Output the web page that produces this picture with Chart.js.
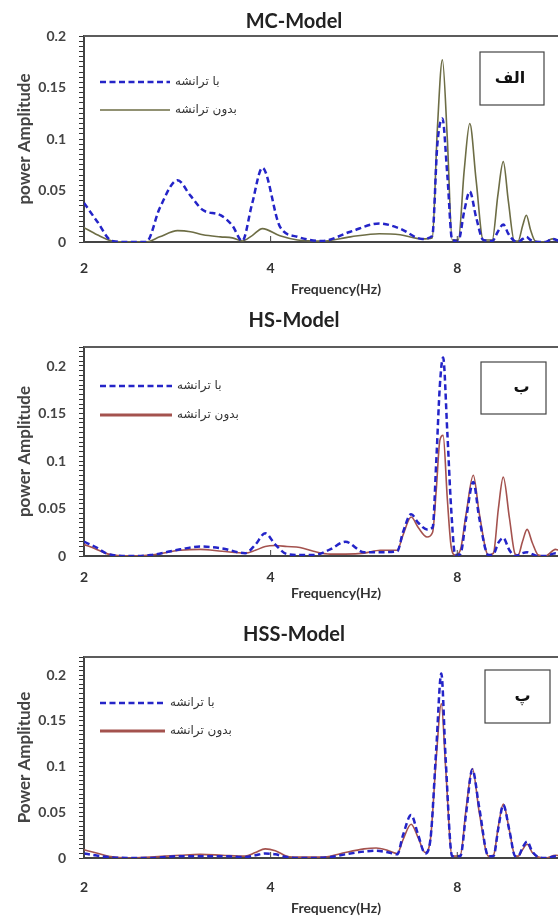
<!DOCTYPE html>
<html>
<head>
<meta charset="utf-8">
<script src="https://cdn.jsdelivr.net/npm/chart.js@4.4.1/dist/chart.umd.min.js"></script>
<style>
  html, body { margin: 0; padding: 0; background: #fff; overflow: hidden; }
  #page { position: relative; width: 558px; height: 917px; overflow: hidden; }
  .panel { position: absolute; left: 0; }
  .panel canvas { display: block; }
</style>
</head>
<body>
<div id="page">
  <div class="panel" style="top:0"><canvas id="mc" width="592" height="300"></canvas></div>
  <div class="panel" style="top:300px"><canvas id="hs" width="592" height="310"></canvas></div>
  <div class="panel" style="top:610px"><canvas id="hss" width="592" height="307"></canvas></div>
</div>
<script>
const xTicks = [2, 4, 8];
const seriesNames = ['با ترانشه', 'بدون ترانشه'];

// MC-Model spectra
const mcFreq = [2.00, 2.10, 2.22, 2.37, 2.52, 2.65, 2.83, 2.97, 3.11, 3.32,
  3.47, 3.60, 3.73, 3.88, 4.14, 4.42, 4.84, 5.38, 5.99, 6.47,
  7.02, 7.29, 7.43, 7.57, 7.71, 7.85, 8.03, 8.21, 8.38, 8.58,
  8.81, 9.11, 9.30, 9.49, 9.67, 9.89, 10.03, 10.20, 10.34, 10.50,
  10.69, 11.10, 11.38, 11.70, 12.30, 13.00];
const mcWith = [0.038, 0.020, 0.001, 0, 0, 0.033, 0.060, 0.045, 0.031, 0.026,
  0.016, 0.001, 0.036, 0.072, 0.015, 0.005, 0.001, 0.010, 0.018, 0.013,
  0.003, 0.006, 0.095, 0.120, 0.065, 0.002, 0.001, 0.030, 0.049, 0.024,
  0.002, 0.001, 0.010, 0.017, 0.008, 0.001, 0, 0.003, 0.005, 0.002,
  0, 0, 0.003, 0.001, 0, 0];
const mcWithout = [0.014, 0.007, 0.001, 0, 0, 0.005, 0.011, 0.010, 0.007, 0.005,
  0.004, 0.001, 0.006, 0.013, 0.006, 0.002, 0.001, 0.005, 0.008, 0.007,
  0.003, 0.004, 0.110, 0.177, 0.100, 0.002, 0.002, 0.070, 0.115, 0.060,
  0.002, 0.002, 0.045, 0.078, 0.040, 0.001, 0.001, 0.016, 0.026, 0.012,
  0.001, 0, 0.003, 0.001, 0, 0];

// HS-Model spectra
const hsFreq = [2.00, 2.08, 2.19, 2.37, 2.56, 2.86, 3.08, 3.34, 3.64, 3.78,
  3.92, 4.07, 4.25, 4.46, 4.69, 4.99, 5.28, 5.66, 6.01, 6.40,
  6.54, 6.74, 6.92, 7.15, 7.30, 7.40, 7.50, 7.59, 7.71, 7.82,
  7.94, 8.09, 8.27, 8.49, 8.68, 8.98, 9.15, 9.32, 9.49, 9.71,
  9.92, 10.03, 10.19, 10.37, 10.57, 10.81, 11.10, 11.52, 12.00, 13.00];
const hsWith = [0.015, 0.010, 0.002, 0, 0.001, 0.007, 0.010, 0.008, 0.003, 0.012,
  0.024, 0.012, 0.002, 0.001, 0.001, 0.007, 0.015, 0.004, 0.004, 0.005,
  0.025, 0.044, 0.035, 0.028, 0.030, 0.100, 0.180, 0.209, 0.130, 0.050,
  0.001, 0.002, 0.040, 0.078, 0.040, 0.001, 0.002, 0.014, 0.019, 0.006,
  0, 0.001, 0.003, 0.004, 0.002, 0, 0, 0.003, 0.001, 0];
const hsWithout = [0.012, 0.008, 0.002, 0, 0.001, 0.006, 0.007, 0.005, 0.003, 0.006,
  0.010, 0.011, 0.010, 0.009, 0.005, 0.002, 0.002, 0.003, 0.006, 0.006,
  0.022, 0.041, 0.030, 0.020, 0.025, 0.070, 0.122, 0.127, 0.060, 0.010,
  0.001, 0.006, 0.045, 0.085, 0.045, 0.001, 0.003, 0.050, 0.083, 0.040,
  0.002, 0.001, 0.015, 0.028, 0.014, 0.001, 0, 0.007, 0.002, 0];

// HSS-Model spectra
const hssFreq = [2.00, 2.08, 2.19, 2.37, 2.56, 2.86, 3.08, 3.34, 3.64, 3.78,
  3.92, 4.07, 4.25, 4.46, 4.69, 4.99, 5.28, 5.66, 5.92, 6.20,
  6.40, 6.54, 6.74, 6.92, 7.10, 7.24, 7.40, 7.54, 7.66, 7.85,
  8.09, 8.27, 8.46, 8.68, 8.98, 9.15, 9.32, 9.49, 9.71, 9.92,
  10.03, 10.19, 10.37, 10.57, 10.81, 11.10, 11.52, 12.00, 13.00];
const hssWith = [0.005, 0.003, 0.001, 0, 0, 0.002, 0.002, 0.002, 0.001, 0.003,
  0.005, 0.004, 0.001, 0, 0, 0.001, 0.004, 0.007, 0.008, 0.006,
  0.004, 0.025, 0.047, 0.025, 0.005, 0.020, 0.120, 0.202, 0.110, 0.002,
  0.002, 0.050, 0.097, 0.055, 0.002, 0.002, 0.033, 0.058, 0.030, 0.002,
  0.002, 0.011, 0.018, 0.007, 0.001, 0, 0.002, 0, 0];
const hssWithout = [0.009, 0.006, 0.002, 0, 0.001, 0.003, 0.004, 0.003, 0.002, 0.006,
  0.010, 0.008, 0.002, 0.001, 0.001, 0.002, 0.006, 0.010, 0.011, 0.008,
  0.005, 0.020, 0.037, 0.022, 0.006, 0.020, 0.110, 0.169, 0.100, 0.002,
  0.003, 0.055, 0.098, 0.050, 0.002, 0.003, 0.035, 0.059, 0.030, 0.002,
  0.002, 0.009, 0.015, 0.006, 0.001, 0, 0.003, 0.001, 0];

const blue = '#2424c8';
const font = 'Lato';

// frame, inner legend and the lettered tag box
const decor = {
  id: 'decor',
  afterDraw(chart, args, o) {
    const { ctx, chartArea: a } = chart;
    ctx.save();
    ctx.strokeStyle = '#5c5c5c';
    ctx.lineWidth = 2;
    ctx.beginPath();
    ctx.moveTo(a.left, a.top);
    ctx.lineTo(a.right, a.top);
    ctx.lineTo(a.right, a.bottom);
    ctx.stroke();

    const xs = chart.scales.x;
    ctx.lineWidth = 1;
    ctx.strokeStyle = '#444';
    xs.ticks.forEach(t => {
      const px = xs.getPixelForValue(t.value);
      ctx.beginPath();
      ctx.moveTo(px, a.bottom);
      ctx.lineTo(px, a.bottom - 6);
      ctx.stroke();
    });

    chart.data.datasets.forEach((ds, i) => {
      const y = a.top + o.legendY[i];
      ctx.strokeStyle = ds.borderColor;
      ctx.lineWidth = i === 0 ? 2.5 : o.solidLegendWidth;
      ctx.setLineDash(ds.borderDash || []);
      ctx.beginPath();
      ctx.moveTo(a.left + 16, y);
      ctx.lineTo(a.left + o.legendLen, y);
      ctx.stroke();
      ctx.setLineDash([]);
      ctx.fillStyle = '#333';
      ctx.font = '12px "DejaVu Sans"';
      ctx.textBaseline = 'middle';
      ctx.textAlign = 'left';
      ctx.fillText(ds.label, a.left + o.legendLen + 5, y);
    });

    const b = o.tag;
    ctx.strokeStyle = '#444';
    ctx.lineWidth = 1.2;
    ctx.strokeRect(a.left + b.x, a.top + b.y, b.w, b.h);
    ctx.fillStyle = '#111';
    ctx.font = 'bold 16px "DejaVu Sans"';
    ctx.textAlign = 'center';
    ctx.fillText(b.text, a.left + b.x + b.w / 2 + b.dx, a.top + b.y + b.h / 2);
    ctx.restore();
  }
};

function panel(id, title, yTitle, freq, withTr, withoutTr, solidColor, o) {
  new Chart(document.getElementById(id), {
    type: 'line',
    data: {
      datasets: [{
        label: seriesNames[0],
        data: freq.map((f, i) => ({ x: f, y: withTr[i] })),
        borderColor: blue,
        borderWidth: 2.5,
        borderDash: [6, 3.5]
      }, {
        label: seriesNames[1],
        data: freq.map((f, i) => ({ x: f, y: withoutTr[i] })),
        borderColor: solidColor,
        borderWidth: 1.6
      }]
    },
    options: {
      responsive: false,
      animation: false,
      layout: { padding: { left: 0, right: 4, top: 0, bottom: 0 } },
      elements: {
        point: { radius: 0 },
        line: { cubicInterpolationMode: 'monotone', fill: false }
      },
      plugins: {
        legend: { display: false },
        tooltip: { enabled: false },
        title: {
          display: true,
          text: title,
          color: '#222',
          font: { family: font, size: 20, weight: 'bold' },
          padding: o.titlePad
        },
        decor: o
      },
      scales: {
        x: {
          type: 'logarithmic',
          min: 2,
          max: 13,
          afterBuildTicks: s => { s.ticks = xTicks.map(v => ({ value: v })); },
          afterFit: s => { s.height = o.xHeight; },
          grid: { display: false, drawTicks: false },
          border: { color: '#444', width: 2 },
          ticks: {
            autoSkip: false,
            maxRotation: 0,
            padding: o.tickPad,
            color: '#333',
            font: { family: font, size: 14, weight: 'bold' },
            callback: v => String(v)
          },
          title: {
            display: true,
            text: 'Frequency(Hz)',
            color: '#333',
            font: { family: font, size: 14, weight: 'bold' },
            padding: { top: 0, bottom: o.xTitlePad }
          }
        },
        y: {
          min: 0,
          max: o.yMax,
          // minor ticks every 0.005, labelled every 0.05
          afterBuildTicks: s => {
            const t = [];
            for (let i = 0; i <= Math.round(s.max / 0.005); i++) t.push({ value: i * 0.005 });
            s.ticks = t;
          },
          afterFit: s => { s.width = 84; },
          grid: { drawOnChartArea: false, drawTicks: true, tickLength: 5, color: '#333' },
          border: { color: '#444', width: 2 },
          ticks: {
            autoSkip: false,
            padding: 13,
            color: '#444',
            font: { family: font, size: 14, weight: 'bold' },
            callback: v => (Math.round(v * 1000) % 50 === 0 ? String(+v.toFixed(2)) : '')
          },
          title: {
            display: true,
            text: yTitle,
            color: '#444',
            font: { family: font, size: 17, weight: 'bold' },
            padding: { top: 14, bottom: 0 }
          }
        }
      }
    },
    plugins: [decor]
  });
}

panel('mc', 'MC-Model', 'power Amplitude', mcFreq, mcWith, mcWithout, '#6d6d45', {
  titlePad: { top: 10, bottom: 2 }, yMax: 0.2, xHeight: 58, tickPad: 17.6, xTitlePad: 2.6,
  legendY: [46, 74], legendLen: 86, solidLegendWidth: 1.6,
  tag: { x: 396, y: 16, w: 64, h: 53, text: 'الف', dx: -2 }
});

panel('hs', 'HS-Model', 'power Amplitude', hsFreq, hsWith, hsWithout, '#a4524e', {
  titlePad: { top: 9, bottom: 14 }, yMax: 0.22, xHeight: 54, tickPad: 12.6, xTitlePad: 8.6,
  legendY: [39, 68], legendLen: 88, solidLegendWidth: 3,
  tag: { x: 397, y: 15, w: 65, h: 52, text: 'ب', dx: 8 }
});

panel('hss', 'HSS-Model', 'Power Amplitude', hssFreq, hssWith, hssWithout, '#a4524e', {
  titlePad: { top: 13, bottom: 10 }, yMax: 0.22, xHeight: 59, tickPad: 20.6, xTitlePad: 0,
  legendY: [46, 74], legendLen: 81, solidLegendWidth: 3,
  tag: { x: 401, y: 13, w: 65, h: 53, text: 'پ', dx: 5 }
});
</script>
</body>
</html>
